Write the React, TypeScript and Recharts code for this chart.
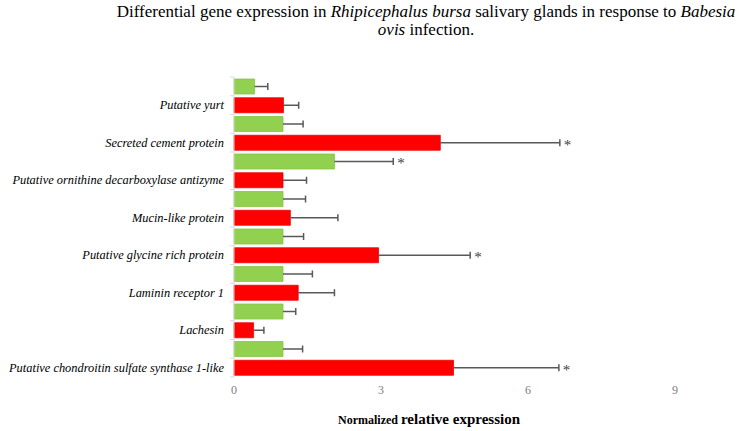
import React from 'react';
import { BarChart, Bar, XAxis, YAxis, Cell, LabelList } from 'recharts';

if (typeof document !== 'undefined') {
  document.body.style.margin = '0';
}

// Row labels (top to bottom); green control rows have no label
const rowLabels = [
  '',
  'Putative yurt',
  '',
  'Secreted cement protein',
  '',
  'Putative ornithine decarboxylase antizyme',
  '',
  'Mucin-like protein',
  '',
  'Putative glycine rich protein',
  '',
  'Laminin receptor 1',
  '',
  'Lachesin',
  '',
  'Putative chondroitin sulfate synthase 1-like',
];
const rowGroups = [
  'control', 'infected', 'control', 'infected', 'control', 'infected', 'control', 'infected',
  'control', 'infected', 'control', 'infected', 'control', 'infected', 'control', 'infected',
];
const expression = [0.42, 1.01, 1.0, 4.21, 2.05, 1.0, 1.0, 1.15, 1.0, 2.95, 1.0, 1.31, 1.0, 0.4, 1.0, 4.48];
const errorUpper = [0.27, 0.31, 0.41, 2.44, 1.2, 0.48, 0.46, 0.97, 0.42, 1.87, 0.6, 0.74, 0.26, 0.21, 0.4, 2.15];
const significance = ['', '', '', '*', '*', '', '', '', '', '*', '', '', '', '', '', '*'];
const xTicks = [0, 3, 6, 9];

const groupColors: Record<string, string> = { control: '#92D050', infected: '#FF0000' };
const groupStroke: Record<string, string> = { control: '#86c544', infected: '#f00000' };

const data = rowLabels.map((name, i) => ({
  id: `row${i}`,
  name,
  group: rowGroups[i],
  value: expression[i],
  err: errorUpper[i],
  sig: significance[i],
}));

const SERIF = 'Liberation Serif';

const YTick = (props: any) => {
  const { x, y, payload, index } = props;
  const off = payload && typeof payload.offset === 'number' && payload.offset > 0 ? payload.offset : 9.4;
  const row = data.find((d) => d.id === payload.value);
  const ax = x + 10;
  return (
    <g>
      <line x1={ax - 4} x2={ax} y1={y - off} y2={y - off} stroke="#d9d9d9" strokeWidth={1} />
      {index === data.length - 1 && (
        <line x1={ax - 4} x2={ax} y1={y + off} y2={y + off} stroke="#d9d9d9" strokeWidth={1} />
      )}
      {row && row.name && (
        <text
          x={x}
          y={y}
          dy="0.35em"
          textAnchor="end"
          style={{ fontFamily: SERIF, fontStyle: 'italic', fontSize: 12.4 }}
          fill="#000"
        >
          {row.name}
        </text>
      )}
    </g>
  );
};

const Whisker = (props: any) => {
  const { x, y, width, height } = props;
  if (width == null || height == null) return null;
  const cy = y + height / 2;
  const ex = x + width;
  return (
    <g>
      <line x1={x} x2={ex} y1={cy} y2={cy} stroke="#595959" strokeWidth={1.5} />
      <line x1={ex} x2={ex} y1={cy - 3.5} y2={cy + 3.5} stroke="#595959" strokeWidth={1.5} />
    </g>
  );
};

const StarLabel = (props: any) => {
  const { x, y, width, height, value } = props;
  if (!value) return null;
  return (
    <text
      x={x + width + 4}
      y={y + height / 2}
      dy="0.45em"
      style={{ fontFamily: SERIF, fontSize: 15 }}
      fill="#404040"
    >
      {value}
    </text>
  );
};

const XLabel = () => (
  <text x={338} y={424} style={{ fontFamily: SERIF, fontWeight: 'bold' }} fill="#000">
    <tspan fontSize={12}>Normalized </tspan>
    <tspan fontSize={15}>relative expression</tspan>
  </text>
);

export default function App() {
  return (
    <div style={{ position: 'relative', width: 743, height: 431, background: '#fff', fontFamily: SERIF }}>
      <div
        style={{
          position: 'absolute',
          left: 26,
          width: 800,
          top: 3,
          textAlign: 'center',
          fontFamily: SERIF,
          fontSize: 17,
          lineHeight: '18px',
          color: '#000',
          whiteSpace: 'nowrap',
        }}
      >
        Differential gene expression in <i>Rhipicephalus bursa</i> salivary glands in response to <i>Babesia</i>
        <br />
        <i>ovis</i> infection.
      </div>
      <BarChart
        width={743}
        height={431}
        data={data}
        layout="vertical"
        margin={{ top: 77, right: 68, bottom: 24, left: 0 }}
        barCategoryGap={0}
        style={{ fontFamily: SERIF }}
      >
        <XAxis
          type="number"
          domain={[0, 9]}
          ticks={xTicks}
          axisLine={false}
          tickLine={false}
          height={30}
          tick={{ fill: '#808080', fontSize: 12, style: { fontFamily: SERIF } }}
          label={{ content: <XLabel /> }}
        />
        <YAxis
          type="category"
          dataKey="id"
          width={234}
          interval={0}
          tickLine={false}
          tickSize={4}
          tickMargin={6}
          axisLine={{ stroke: '#d9d9d9' }}
          tick={<YTick />}
        />
        <Bar dataKey="value" stackId="a" barSize={15} isAnimationActive={false}>
          {data.map((d) => (
            <Cell key={d.id} fill={groupColors[d.group]} stroke={groupStroke[d.group]} strokeWidth={0.8} />
          ))}
        </Bar>
        <Bar dataKey="err" stackId="a" barSize={15} isAnimationActive={false} shape={<Whisker />}>
          <LabelList dataKey="sig" content={<StarLabel />} />
        </Bar>
      </BarChart>
    </div>
  );
}
